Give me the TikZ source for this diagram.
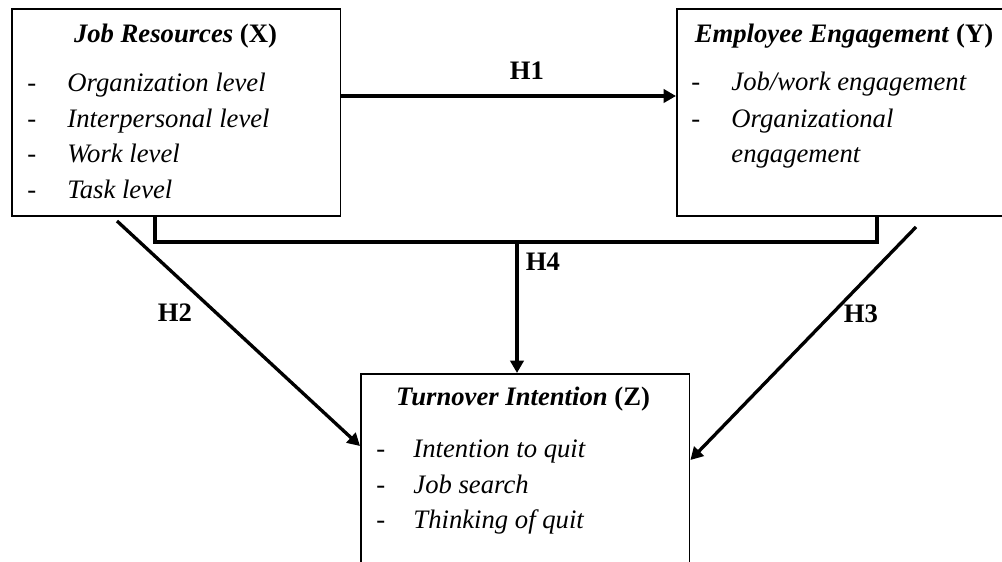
\documentclass[tikz,border=0pt]{standalone}
\usepackage{fontspec}
\setmainfont{Liberation Serif}
\usetikzlibrary{arrows.meta}

\begin{document}
\begin{tikzpicture}[
  x=0.45pt, y=-0.45pt,
  box/.style={rectangle, draw, line width=0.7pt, inner sep=0pt, anchor=north west},
  head/.style={anchor=base, inner sep=0pt, font=\fontsize{12}{16}\selectfont\bfseries},
  bullet/.style={anchor=base west, inner sep=0pt, font=\fontsize{12}{16}\selectfont},
  item/.style={anchor=base west, inner sep=0pt, font=\fontsize{12}{16}\selectfont\itshape},
  hyp/.style={inner sep=0pt, font=\fontsize{12}{16}\selectfont\bfseries},
  link/.style={line width=1.5pt},
  arrow/.style={-{Triangle[length=5.6pt, width=6pt]}, line width=1.5pt}
]
\useasboundingbox (0,0) rectangle (1002,562);
\clip (0,0) rectangle (1002,562);

% boxes
\node[box, minimum width=148pt, minimum height=93.2pt] (jr) at (11,8) {};
\node[box, minimum width=150.3pt, minimum height=93.2pt] (ee) at (676,8) {};
\node[box, minimum width=148pt, minimum height=102pt] (ti) at (360,373) {};

% job resources
\node[head] (jrT) at (175.5,43) {\textit{Job Resources} (X)};
\node[bullet] (jrD1) at (27,92) {-};
\node[item] (jr1) at (67,92) {Organization level};
\node[bullet] (jrD2) at (27,128) {-};
\node[item] (jr2) at (67,128) {Interpersonal level};
\node[bullet] (jrD3) at (27,163) {-};
\node[item] (jr3) at (67,163) {Work level};
\node[bullet] (jrD4) at (27,199) {-};
\node[item] (jr4) at (67,199) {Task level};

% employee engagement
\node[head] (eeT) at (844,43) {\textit{Employee Engagement} (Y)};
\node[bullet] (eeD1) at (691,91) {-};
\node[item] (ee1) at (731,91) {Job/work engagement};
\node[bullet] (eeD2) at (691,128) {-};
\node[item] (ee2) at (731,128) {Organizational};
\node[item] (ee3) at (731,163) {engagement};

% turnover intention
\node[head] (tiT) at (523,405) {\textit{Turnover Intention} (Z)};
\node[bullet] (tiD1) at (376,457) {-};
\node[item] (ti1) at (413,457) {Intention to quit};
\node[bullet] (tiD2) at (376,493) {-};
\node[item] (ti2) at (413,493) {Job search};
\node[bullet] (tiD3) at (376,528) {-};
\node[item] (ti3) at (413,528) {Thinking of quit};

% hypotheses
\coordinate (jl) at (155,242);
\coordinate (jm) at (517,242);
\coordinate (el) at (877,242);
\coordinate (h2s) at (117,221);
\coordinate (h3s) at (916,227);

\draw[arrow] (jr.east |- 0,96) -- (ee.west |- 0,96);
\draw[link] (jr.south -| jl) -- (jl) -- (el) -- (ee.south -| el);
\draw[arrow] (jm) -- (jm |- ti.north);
\draw[arrow] (h2s) -- (ti.west |- 0,446);
\draw[arrow] (h3s) -- (ti.east |- 0,460);

\node[hyp] (h1) at (527,71) {H1};
\node[hyp] (h4) at (543,262) {H4};
\node[hyp] (h2) at (175,313) {H2};
\node[hyp] (h3) at (861,314) {H3};
\end{tikzpicture}
\end{document}
